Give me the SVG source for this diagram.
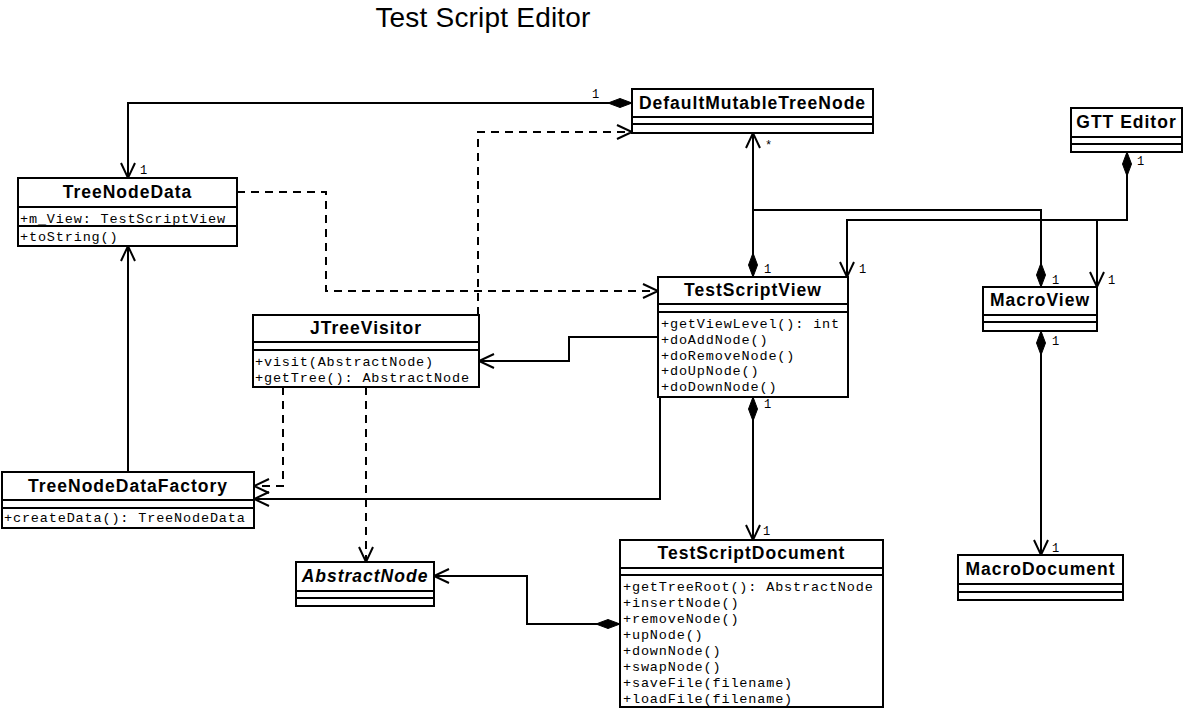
<svg xmlns="http://www.w3.org/2000/svg" width="1184" height="708" viewBox="0 0 1184 708">
<style>
.box{fill:#fff;stroke:#000;stroke-width:2}
.sep{stroke:#000;stroke-width:2}
.nm{font-family:"Liberation Sans",Arial,sans-serif;font-weight:bold;font-size:17.5px;letter-spacing:1px;text-anchor:middle;fill:#000}
.it{font-style:italic}
.mb{font-family:"Liberation Mono","Courier New",monospace;font-size:13.5px;letter-spacing:0.85px;fill:#000}
.ml{font-family:"Liberation Mono","Courier New",monospace;font-size:12px;fill:#000}
.ln{fill:none;stroke:#000;stroke-width:2}
.dash{stroke-dasharray:8,6}
.title{font-family:"Liberation Sans",Arial,sans-serif;font-size:28px;letter-spacing:0.2px;text-anchor:middle;fill:#000}
</style>
<defs>
<marker id="open" markerUnits="userSpaceOnUse" orient="auto" viewBox="-16 -8 20 16" markerWidth="20" markerHeight="16" refX="0" refY="0" overflow="visible">
<path d="M-15,-7 L0,0 L-15,7" fill="none" stroke="#000" stroke-width="2"/>
</marker>
<marker id="dia" markerUnits="userSpaceOnUse" orient="auto" viewBox="0 -5 25 10" markerWidth="25" markerHeight="10" refX="0" refY="0" overflow="visible">
<path d="M0,0 L12,-4.5 L24,0 L12,4.5 Z" fill="#000" stroke="#000" stroke-width="1"/>
</marker>
</defs>
<rect width="1184" height="708" fill="#fff"/>
<text class="title" x="483" y="27">Test Script Editor</text>

<g id="connectors">
<path class="ln" d="M632,103 L128,103 L128,178" marker-start="url(#dia)" marker-end="url(#open)"/>
<path class="ln dash" d="M478,315 L478,132 L632,132" marker-end="url(#open)"/>
<path class="ln dash" d="M237,192 L326,192 L326,291 L658,291" marker-end="url(#open)"/>
<path class="ln" d="M753,277 L753,133" marker-start="url(#dia)" marker-end="url(#open)"/>
<path class="ln" d="M1041,287 L1041,210 L753,210" marker-start="url(#dia)"/>
<path class="ln" d="M1127,152 L1127,220 L847,220 L847,277" marker-start="url(#dia)" marker-end="url(#open)"/>
<path class="ln" d="M1097,220 L1097,287" marker-end="url(#open)"/>
<path class="ln" d="M1041,331 L1041,555" marker-start="url(#dia)" marker-end="url(#open)"/>
<path class="ln" d="M753,397 L753,540" marker-start="url(#dia)" marker-end="url(#open)"/>
<path class="ln" d="M620,624 L527,624 L527,576 L434,576" marker-start="url(#dia)" marker-end="url(#open)"/>
<path class="ln" d="M658,337 L569,337 L569,361 L479,361" marker-end="url(#open)"/>
<path class="ln dash" d="M283,387 L283,486 L254,486" marker-end="url(#open)"/>
<path class="ln dash" d="M366,387 L366,562" marker-end="url(#open)"/>
<path class="ln" d="M660,397 L660,499 L254,499" marker-end="url(#open)"/>
<path class="ln" d="M128,472 L128,246" marker-end="url(#open)"/>
<text class="ml" x="140" y="174">1</text>
<text class="ml" x="592" y="98">1</text>
<text class="ml" x="765" y="149">*</text>
<text class="ml" x="764" y="273">1</text>
<text class="ml" x="859" y="273">1</text>
<text class="ml" x="1137" y="165">1</text>
<text class="ml" x="1052" y="284">1</text>
<text class="ml" x="1108" y="284">1</text>
<text class="ml" x="1052" y="345">1</text>
<text class="ml" x="1052" y="552">1</text>
<text class="ml" x="764" y="408">1</text>
<text class="ml" x="763" y="535">1</text>
</g>

<g id="DefaultMutableTreeNode">
<rect class="box" x="632" y="89" width="241" height="44"/>
<line class="sep" x1="632" y1="117" x2="873" y2="117"/>
<line class="sep" x1="632" y1="124" x2="873" y2="124"/>
<text class="nm" x="752.5" y="109">DefaultMutableTreeNode</text>
</g>

<g id="GTTEditor">
<rect class="box" x="1071" y="108" width="111" height="44"/>
<line class="sep" x1="1071" y1="137" x2="1182" y2="137"/>
<line class="sep" x1="1071" y1="144" x2="1182" y2="144"/>
<text class="nm" x="1126.5" y="128">GTT Editor</text>
</g>

<g id="TreeNodeData">
<rect class="box" x="18" y="178" width="219" height="68"/>
<line class="sep" x1="18" y1="207" x2="237" y2="207"/>
<line class="sep" x1="18" y1="226" x2="237" y2="226"/>
<text class="nm" x="127.5" y="198">TreeNodeData</text>
<text class="mb" x="20" y="223">+m_View: TestScriptView</text>
<text class="mb" x="20" y="241">+toString()</text>
</g>

<g id="TestScriptView">
<rect class="box" x="658" y="277" width="190" height="120"/>
<line class="sep" x1="658" y1="304" x2="848" y2="304"/>
<line class="sep" x1="658" y1="312" x2="848" y2="312"/>
<text class="nm" x="753" y="296">TestScriptView</text>
<text class="mb" x="661" y="328">+getViewLevel(): int</text>
<text class="mb" x="661" y="344">+doAddNode()</text>
<text class="mb" x="661" y="360">+doRemoveNode()</text>
<text class="mb" x="661" y="375">+doUpNode()</text>
<text class="mb" x="661" y="391">+doDownNode()</text>
</g>

<g id="MacroView">
<rect class="box" x="983" y="287" width="114" height="44"/>
<line class="sep" x1="983" y1="315" x2="1097" y2="315"/>
<line class="sep" x1="983" y1="322" x2="1097" y2="322"/>
<text class="nm" x="1040" y="306">MacroView</text>
</g>

<g id="JTreeVisitor">
<rect class="box" x="253" y="315" width="226" height="72"/>
<line class="sep" x1="253" y1="342" x2="479" y2="342"/>
<line class="sep" x1="253" y1="350" x2="479" y2="350"/>
<text class="nm" x="366" y="334">JTreeVisitor</text>
<text class="mb" x="255" y="366">+visit(AbstractNode)</text>
<text class="mb" x="255" y="382">+getTree(): AbstractNode</text>
</g>

<g id="TreeNodeDataFactory">
<rect class="box" x="2" y="472" width="252" height="56"/>
<line class="sep" x1="2" y1="500" x2="254" y2="500"/>
<line class="sep" x1="2" y1="508" x2="254" y2="508"/>
<text class="nm" x="128" y="492">TreeNodeDataFactory</text>
<text class="mb" x="4" y="522">+createData(): TreeNodeData</text>
</g>

<g id="AbstractNode">
<rect class="box" x="296" y="562" width="138" height="44"/>
<line class="sep" x1="296" y1="591" x2="434" y2="591"/>
<line class="sep" x1="296" y1="598" x2="434" y2="598"/>
<text class="nm it" x="365" y="582">AbstractNode</text>
</g>

<g id="TestScriptDocument">
<rect class="box" x="620" y="540" width="263" height="167"/>
<line class="sep" x1="620" y1="568" x2="883" y2="568"/>
<line class="sep" x1="620" y1="575" x2="883" y2="575"/>
<text class="nm" x="751.5" y="559">TestScriptDocument</text>
<text class="mb" x="623" y="591">+getTreeRoot(): AbstractNode</text>
<text class="mb" x="623" y="607">+insertNode()</text>
<text class="mb" x="623" y="623">+removeNode()</text>
<text class="mb" x="623" y="639">+upNode()</text>
<text class="mb" x="623" y="655">+downNode()</text>
<text class="mb" x="623" y="671">+swapNode()</text>
<text class="mb" x="623" y="687">+saveFile(filename)</text>
<text class="mb" x="623" y="703">+loadFile(filename)</text>
</g>

<g id="MacroDocument">
<rect class="box" x="958" y="555" width="165" height="45"/>
<line class="sep" x1="958" y1="584" x2="1123" y2="584"/>
<line class="sep" x1="958" y1="592" x2="1123" y2="592"/>
<text class="nm" x="1040.5" y="575">MacroDocument</text>
</g>
</svg>
